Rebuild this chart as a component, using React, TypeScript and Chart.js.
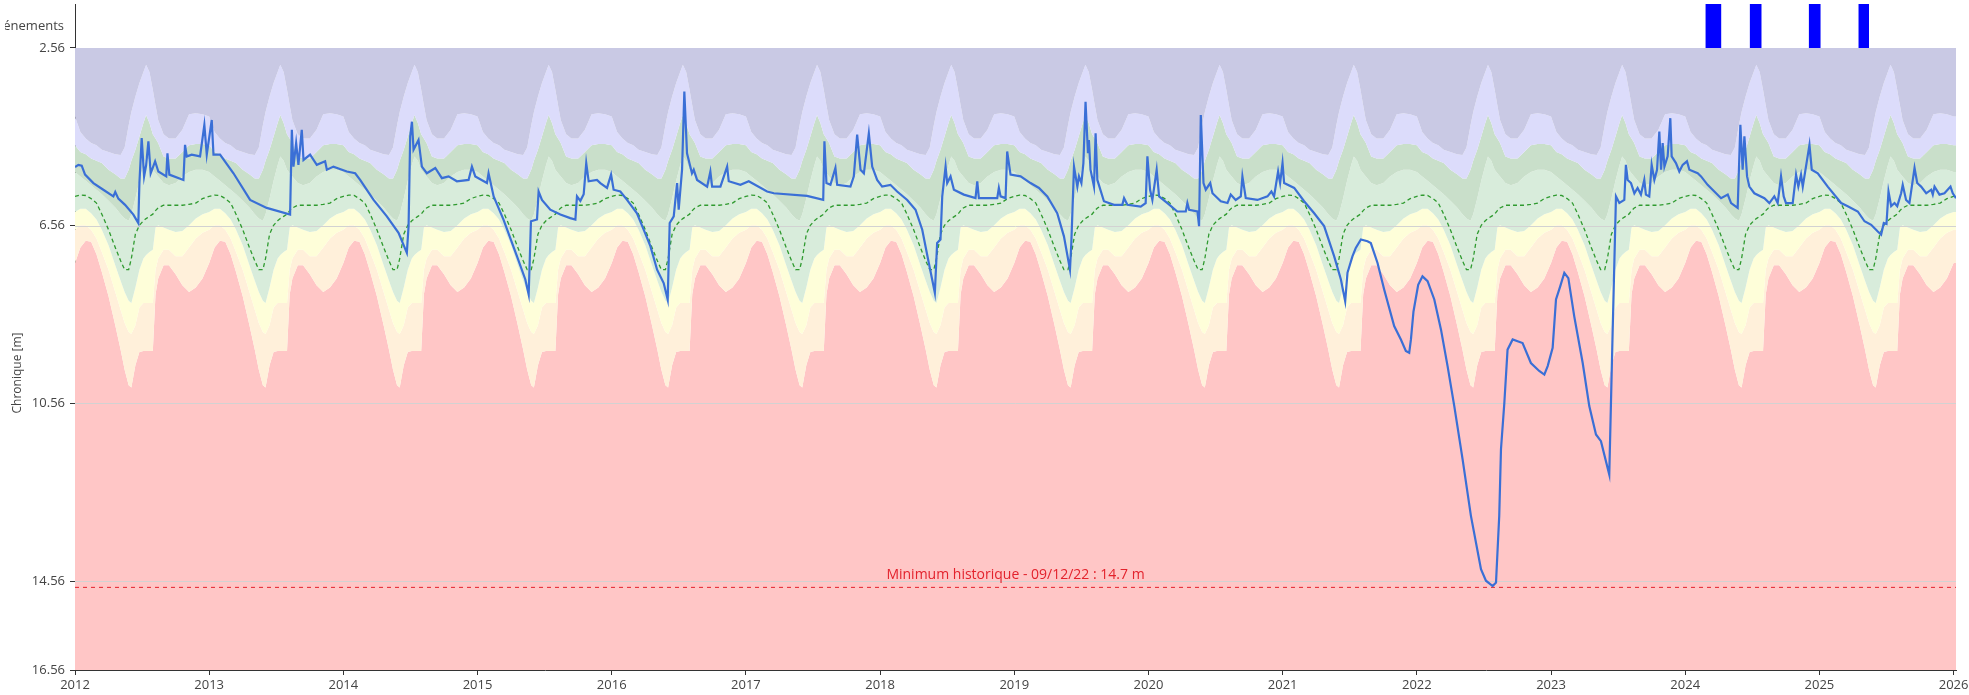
import React, { useEffect, useRef } from 'react';
import { Chart, registerables } from 'chart.js';

Chart.register(...registerables);

const X_MIN = 2012;
const X_MAX = 2026.018;
const Y_TOP = 1.57;
const Y_BOTTOM = 16.56;
const BAND_TOP = 2.56;

const yearTicks = [2012, 2013, 2014, 2015, 2016, 2017, 2018, 2019, 2020, 2021, 2022, 2023, 2024, 2025, 2026];
const yTickValues = [2.56, 6.56, 10.56, 14.56, 16.56];
const gridValues = [6.56, 10.56, 14.56];

const yAxisTitle = 'Chronique [m]';
const eventsLabel = 'Événements';

const chronYears = [
  2012.000, 2012.025, 2012.050, 2012.075, 2012.137, 2012.211, 2012.286, 2012.300, 2012.323, 2012.373,
  2012.435, 2012.472, 2012.480, 2012.497, 2012.515, 2012.530, 2012.547, 2012.564, 2012.597, 2012.621,
  2012.680, 2012.689, 2012.703, 2012.808, 2012.820, 2012.833, 2012.870, 2012.932, 2012.964, 2012.982,
  2013.019, 2013.032, 2013.081, 2013.181, 2013.305, 2013.429, 2013.603, 2013.616, 2013.628, 2013.648,
  2013.665, 2013.690, 2013.703, 2013.752, 2013.802, 2013.864, 2013.877, 2013.926, 2014.026, 2014.088,
  2014.125, 2014.225, 2014.324, 2014.411, 2014.473, 2014.486, 2014.498, 2014.511, 2014.523, 2014.560,
  2014.585, 2014.622, 2014.685, 2014.734, 2014.784, 2014.846, 2014.933, 2014.958, 2014.983, 2015.070,
  2015.082, 2015.120, 2015.194, 2015.294, 2015.356, 2015.381, 2015.398, 2015.443, 2015.455, 2015.480,
  2015.542, 2015.617, 2015.691, 2015.729, 2015.741, 2015.766, 2015.791, 2015.810, 2015.828, 2015.890,
  2015.915, 2015.965, 2015.995, 2016.014, 2016.064, 2016.114, 2016.188, 2016.238, 2016.288, 2016.338,
  2016.387, 2016.417, 2016.432, 2016.462, 2016.487, 2016.499, 2016.524, 2016.541, 2016.561, 2016.598,
  2016.611, 2016.636, 2016.711, 2016.735, 2016.748, 2016.810, 2016.860, 2016.872, 2016.959, 2017.021,
  2017.158, 2017.208, 2017.456, 2017.576, 2017.585, 2017.600, 2017.630, 2017.667, 2017.680, 2017.779,
  2017.804, 2017.829, 2017.854, 2017.879, 2017.916, 2017.941, 2017.978, 2018.015, 2018.077, 2018.127,
  2018.202, 2018.264, 2018.314, 2018.363, 2018.408, 2018.425, 2018.450, 2018.463, 2018.488, 2018.500,
  2018.525, 2018.550, 2018.624, 2018.711, 2018.724, 2018.736, 2018.873, 2018.885, 2018.898, 2018.935,
  2018.947, 2018.972, 2019.047, 2019.121, 2019.184, 2019.246, 2019.320, 2019.370, 2019.415, 2019.425,
  2019.445, 2019.470, 2019.482, 2019.500, 2019.515, 2019.531, 2019.549, 2019.556, 2019.568, 2019.594,
  2019.606, 2019.619, 2019.668, 2019.743, 2019.805, 2019.818, 2019.843, 2019.942, 2019.979, 2019.992,
  2020.012, 2020.029, 2020.061, 2020.079, 2020.141, 2020.215, 2020.278, 2020.290, 2020.303, 2020.365,
  2020.377, 2020.390, 2020.410, 2020.427, 2020.460, 2020.477, 2020.539, 2020.589, 2020.613, 2020.650,
  2020.688, 2020.700, 2020.725, 2020.812, 2020.887, 2020.916, 2020.936, 2020.966, 2020.981, 2020.999,
  2021.011, 2021.086, 2021.160, 2021.235, 2021.309, 2021.384, 2021.434, 2021.466, 2021.483, 2021.520,
  2021.545, 2021.583, 2021.632, 2021.657, 2021.707, 2021.757, 2021.831, 2021.881, 2021.918, 2021.943,
  2021.956, 2021.975, 2022.010, 2022.042, 2022.080, 2022.130, 2022.180, 2022.229, 2022.279, 2022.341,
  2022.403, 2022.478, 2022.515, 2022.565, 2022.590, 2022.614, 2022.627, 2022.652, 2022.676, 2022.714,
  2022.751, 2022.788, 2022.850, 2022.912, 2022.950, 2022.975, 2023.012, 2023.037, 2023.069, 2023.099,
  2023.129, 2023.173, 2023.236, 2023.285, 2023.335, 2023.372, 2023.434, 2023.459, 2023.484, 2023.509,
  2023.546, 2023.558, 2023.571, 2023.596, 2023.621, 2023.645, 2023.670, 2023.695, 2023.707, 2023.732,
  2023.750, 2023.770, 2023.790, 2023.807, 2023.820, 2023.832, 2023.845, 2023.869, 2023.889, 2023.899,
  2023.931, 2023.956, 2023.981, 2024.013, 2024.031, 2024.093, 2024.118, 2024.167, 2024.217, 2024.267,
  2024.317, 2024.342, 2024.391, 2024.411, 2024.428, 2024.441, 2024.461, 2024.478, 2024.515, 2024.590,
  2024.627, 2024.664, 2024.689, 2024.714, 2024.734, 2024.751, 2024.801, 2024.826, 2024.843, 2024.863,
  2024.876, 2024.926, 2024.943, 2024.988, 2025.062, 2025.162, 2025.211, 2025.286, 2025.336, 2025.386,
  2025.435, 2025.460, 2025.480, 2025.500, 2025.515, 2025.535, 2025.560, 2025.580, 2025.609, 2025.621,
  2025.646, 2025.671, 2025.709, 2025.729, 2025.758, 2025.796, 2025.833, 2025.845, 2025.858, 2025.895,
  2025.932, 2025.977, 2025.994, 2026.018,
];

const chronValues = [
  5.24, 5.19, 5.21, 5.41, 5.60, 5.75, 5.90, 5.80, 5.95, 6.09,
  6.31, 6.50, 5.60, 4.59, 5.45, 5.20, 4.66, 5.38, 5.11, 5.34,
  5.45, 4.93, 5.41, 5.53, 4.74, 5.00, 4.96, 5.00, 4.29, 4.96,
  4.18, 4.96, 4.96, 5.38, 5.98, 6.16, 6.31, 4.40, 5.23, 4.70,
  5.19, 4.40, 5.08, 4.96, 5.19, 5.11, 5.30, 5.23, 5.34, 5.38,
  5.53, 5.98, 6.35, 6.72, 7.17, 6.57, 4.55, 4.22, 4.85, 4.63,
  5.23, 5.38, 5.26, 5.49, 5.45, 5.56, 5.53, 5.23, 5.45, 5.60,
  5.38, 5.90, 6.43, 7.25, 7.77, 8.11, 6.46, 6.42, 5.79, 5.98,
  6.20, 6.31, 6.39, 6.42, 5.90, 6.00, 5.85, 5.15, 5.56, 5.53,
  5.60, 5.71, 5.41, 5.75, 5.79, 5.98, 6.28, 6.65, 7.02, 7.55,
  7.85, 8.22, 6.50, 6.35, 5.60, 6.20, 5.30, 3.54, 4.93, 5.38,
  5.30, 5.53, 5.68, 5.34, 5.68, 5.68, 5.23, 5.56, 5.64, 5.56,
  5.79, 5.83, 5.89, 5.98, 4.66, 5.60, 5.64, 5.26, 5.64, 5.68,
  5.45, 4.51, 5.30, 5.38, 4.48, 5.23, 5.53, 5.68, 5.64, 5.79,
  5.98, 6.20, 6.65, 7.40, 8.07, 6.95, 6.87, 5.90, 5.23, 5.60,
  5.45, 5.75, 5.86, 5.94, 5.56, 5.94, 5.94, 5.71, 5.90, 5.94,
  4.89, 5.41, 5.45, 5.60, 5.71, 5.90, 6.28, 6.80, 7.55, 6.95,
  5.23, 5.68, 5.45, 5.60, 5.15, 3.77, 4.93, 4.63, 5.30, 5.68,
  4.48, 5.53, 6.01, 6.09, 6.09, 5.94, 6.09, 6.13, 6.05, 5.00,
  5.75, 5.98, 5.30, 5.90, 6.05, 6.24, 6.24, 6.05, 6.20, 6.24,
  6.57, 4.07, 5.60, 5.75, 5.60, 5.83, 6.01, 6.05, 5.86, 5.98,
  5.90, 5.45, 5.94, 5.98, 5.90, 5.79, 5.90, 5.34, 5.60, 5.15,
  5.60, 5.71, 6.01, 6.28, 6.57, 7.25, 7.77, 8.26, 7.62, 7.25,
  7.06, 6.87, 6.91, 6.95, 7.40, 8.00, 8.82, 9.12, 9.38, 9.42,
  9.12, 8.49, 7.89, 7.70, 7.81, 8.22, 8.90, 9.72, 10.62, 11.82,
  13.09, 14.29, 14.55, 14.67, 14.59, 13.09, 11.59, 10.55, 9.35, 9.12,
  9.16, 9.20, 9.65, 9.83, 9.91, 9.72, 9.31, 8.22, 7.92, 7.62,
  7.74, 8.60, 9.65, 10.62, 11.26, 11.41, 12.16, 8.97, 5.90, 6.05,
  5.98, 5.19, 5.53, 5.60, 5.83, 5.71, 5.86, 5.53, 5.86, 5.90,
  5.19, 5.53, 5.30, 4.44, 5.30, 4.70, 5.23, 5.00, 4.14, 5.00,
  5.15, 5.34, 5.19, 5.11, 5.30, 5.38, 5.45, 5.64, 5.79, 5.94,
  5.86, 6.05, 6.16, 4.29, 5.30, 4.55, 5.45, 5.68, 5.83, 5.94,
  6.05, 5.90, 6.05, 5.45, 5.90, 6.05, 6.05, 5.41, 5.68, 5.41,
  5.68, 4.74, 5.30, 5.38, 5.68, 6.05, 6.12, 6.24, 6.46, 6.54,
  6.69, 6.76, 6.50, 6.52, 5.79, 6.12, 6.05, 6.12, 5.83, 5.64,
  5.98, 6.05, 5.26, 5.60, 5.68, 5.83, 5.75, 5.86, 5.68, 5.86,
  5.83, 5.68, 5.83, 5.94,
];

// Day-of-year statistics (fraction of the year) repeated for each calendar year
const bandFrac = [0.00, 0.04, 0.08, 0.12, 0.16, 0.20, 0.25, 0.30, 0.34, 0.37, 0.40, 0.42, 0.45, 0.48, 0.51, 0.53, 0.555, 0.58, 0.60, 0.62, 0.66, 0.70, 0.75, 0.80, 0.85, 0.90, 0.95];
const bandVeryHigh = [4.10, 4.45, 4.60, 4.70, 4.75, 4.85, 4.90, 4.95, 4.97, 4.80, 4.30, 4.00, 3.65, 3.35, 3.10, 2.94, 3.10, 3.50, 3.85, 4.18, 4.50, 4.60, 4.60, 4.40, 4.05, 4.03, 4.05];
const bandHigh = [4.75, 4.90, 4.95, 5.05, 5.10, 5.15, 5.30, 5.40, 5.50, 5.50, 5.30, 5.10, 4.85, 4.55, 4.25, 4.07, 4.25, 4.50, 4.60, 4.70, 5.00, 5.05, 5.05, 4.90, 4.75, 4.72, 4.72];
const bandAboveNormal = [5.35, 5.45, 5.55, 5.65, 5.75, 5.85, 6.00, 6.15, 6.30, 6.40, 6.45, 6.30, 5.95, 5.55, 5.20, 5.00, 5.10, 5.30, 5.38, 5.45, 5.60, 5.65, 5.60, 5.45, 5.35, 5.30, 5.30];
const bandNormal = [6.25, 6.18, 6.18, 6.28, 6.42, 6.65, 7.00, 7.45, 7.80, 8.05, 8.25, 8.30, 7.95, 7.55, 7.30, 7.22, 7.15, 7.10, 6.60, 6.55, 6.60, 6.65, 6.70, 6.68, 6.55, 6.40, 6.30];
const bandBelowNormal = [6.65, 6.55, 6.55, 6.65, 6.85, 7.15, 7.55, 8.05, 8.45, 8.75, 8.95, 9.00, 8.80, 8.40, 8.30, 8.30, 8.30, 8.30, 7.55, 7.30, 7.10, 7.10, 7.25, 7.25, 7.05, 6.85, 6.72];
const bandLow = [7.40, 7.05, 6.90, 6.92, 7.20, 7.60, 8.15, 8.80, 9.35, 9.80, 10.15, 10.20, 9.70, 9.40, 9.38, 9.38, 9.38, 9.38, 8.10, 7.75, 7.45, 7.45, 7.65, 7.90, 8.05, 7.95, 7.75];
const medianValues = [5.90, 5.87, 5.88, 5.95, 6.05, 6.30, 6.65, 7.05, 7.35, 7.55, 7.55, 7.30, 6.75, 6.55, 6.45, 6.40, 6.35, 6.30, 6.22, 6.16, 6.10, 6.10, 6.10, 6.10, 6.08, 6.05, 5.95];

const eventStarts = [2024.15, 2024.48, 2024.92, 2025.29];
const eventEnds = [2024.27, 2024.57, 2025.01, 2025.37];

const minValue = 14.7;
const minLabel = 'Minimum historique - 09/12/22 : 14.7 m';

const COLORS = {
  line: '#3a6fd6',
  median: '#2f9a2f',
  min: '#e3222c',
  veryHigh: '#c9c9e4',
  high: '#dcdcfb',
  aboveNormal: '#c9dfca',
  normal: '#d8ecdb',
  belowNormal: '#fefed9',
  low: '#fff0da',
  veryLow: '#ffc6c6',
  event: '#0000ff',
  grid: '#d2d2d2',
  axis: '#333333',
  text: '#444444',
};

const FONT = "'Open Sans', 'Noto Sans', sans-serif";

function seasonal(values: number[]) {
  const pts: { x: number; y: number }[] = [];
  for (let yr = 2012; yr <= 2026; yr++) {
    for (let i = 0; i < bandFrac.length; i++) {
      const x = yr + bandFrac[i];
      if (x <= X_MAX) pts.push({ x, y: values[i] });
    }
  }
  pts.push({ x: X_MAX, y: values[0] });
  return pts;
}

const bandDs = (values: number[], color: string, fill: any) => ({
  data: seasonal(values),
  borderColor: 'rgba(0,0,0,0)',
  borderWidth: 0,
  backgroundColor: color,
  pointRadius: 0,
  fill,
});

const overlayPlugin = {
  id: 'overlay',
  afterDatasetDraw(chart: any, args: any) {
    if (args.index !== 7) return;
    const { ctx, chartArea, scales } = chart;
    ctx.save();
    ctx.strokeStyle = COLORS.grid;
    ctx.lineWidth = 1;
    for (const v of gridValues) {
      const y = Math.round(scales.y.getPixelForValue(v)) + 0.5;
      ctx.beginPath();
      ctx.moveTo(chartArea.left, y);
      ctx.lineTo(chartArea.right, y);
      ctx.stroke();
    }
    ctx.restore();
  },
  afterDraw(chart: any) {
    const { ctx, chartArea, scales } = chart;
    ctx.save();
    // minimum label
    ctx.fillStyle = COLORS.min;
    ctx.font = `14px ${FONT}`;
    ctx.textAlign = 'center';
    ctx.textBaseline = 'middle';
    const ym = scales.y.getPixelForValue(minValue);
    ctx.fillText(minLabel, (chartArea.left + chartArea.right) / 2, ym - 12);
    // events label (clipped at left)
    ctx.save();
    ctx.beginPath();
    ctx.rect(5, 0, 70, 48);
    ctx.clip();
    ctx.font = `13px ${FONT}`;
    ctx.fillStyle = COLORS.text;
    ctx.textAlign = 'right';
    ctx.fillText(eventsLabel, 64, 26);
    ctx.restore();
    // y axis title
    ctx.translate(18, 373);
    ctx.rotate(-Math.PI / 2);
    ctx.fillStyle = COLORS.text;
    ctx.font = `12px ${FONT}`;
    ctx.textAlign = 'center';
    ctx.textBaseline = 'middle';
    ctx.fillText(yAxisTitle, 0, 0);
    ctx.restore();
  },
};

export default function App() {
  const ref = useRef<HTMLCanvasElement | null>(null);
  useEffect(() => {
    if (!ref.current) return;
    const datasets: any[] = [];
    datasets.push({
      data: chronYears.map((x, i) => ({ x, y: chronValues[i] })),
      borderColor: COLORS.line,
      borderWidth: 2.2,
      pointRadius: 0,
      fill: false,
      tension: 0,
    });
    datasets.push({
      data: seasonal(medianValues),
      borderColor: COLORS.median,
      borderWidth: 1.3,
      borderDash: [4, 3],
      pointRadius: 0,
      fill: false,
    });
    datasets.push({
      data: [{ x: X_MIN, y: minValue }, { x: X_MAX, y: minValue }],
      borderColor: COLORS.min,
      borderWidth: 1,
      borderDash: [4, 4],
      pointRadius: 0,
      fill: false,
    });
    for (let i = 0; i < eventStarts.length; i++) {
      datasets.push({
        data: [{ x: eventStarts[i], y: Y_TOP }, { x: eventEnds[i], y: Y_TOP }],
        borderColor: 'rgba(0,0,0,0)',
        borderWidth: 0,
        backgroundColor: COLORS.event,
        pointRadius: 0,
        fill: { value: BAND_TOP },
      });
    }
    datasets.push(bandDs(bandVeryHigh, COLORS.veryHigh, { value: BAND_TOP }));
    datasets.push(bandDs(bandHigh, COLORS.high, '-1'));
    datasets.push(bandDs(bandAboveNormal, COLORS.aboveNormal, '-1'));
    datasets.push(bandDs(bandNormal, COLORS.normal, '-1'));
    datasets.push(bandDs(bandBelowNormal, COLORS.belowNormal, '-1'));
    datasets.push(bandDs(bandLow, COLORS.low, '-1'));
    datasets.push(bandDs(bandLow, COLORS.veryLow, 'start'));

    const chart = new Chart(ref.current, {
      type: 'line',
      data: { datasets },
      plugins: [overlayPlugin],
      options: {
        animation: false,
        responsive: false,
        events: [],
        layout: { padding: { left: 0, top: 4, right: 13, bottom: 0 } },
        plugins: { legend: { display: false }, tooltip: { enabled: false } },
        scales: {
          x: {
            type: 'linear',
            min: X_MIN,
            max: X_MAX,
            afterBuildTicks: (s: any) => { s.ticks = yearTicks.map((v) => ({ value: v })); },
            afterFit: (s: any) => { s.height = 25; s.paddingLeft = 0; s.paddingRight = 0; },
            ticks: {
              autoSkip: false,
              maxRotation: 0,
              padding: 2,
              color: COLORS.text,
              font: { family: FONT, size: 13 },
              callback: (v: any) => String(v),
            },
            grid: { drawOnChartArea: false, tickLength: 5, tickColor: COLORS.axis },
            border: { display: true, color: COLORS.axis, width: 1 },
          },
          y: {
            type: 'linear',
            reverse: true,
            min: Y_TOP,
            max: Y_BOTTOM,
            afterBuildTicks: (s: any) => { s.ticks = yTickValues.map((v) => ({ value: v })); },
            afterFit: (s: any) => { s.width = 75; s.paddingTop = 0; s.paddingBottom = 0; },
            ticks: {
              autoSkip: false,
              padding: 5,
              color: COLORS.text,
              font: { family: FONT, size: 13 },
              callback: (v: any) => Number(v).toFixed(2),
            },
            grid: { drawOnChartArea: false, tickLength: 5, tickColor: COLORS.axis },
            border: { display: true, color: COLORS.axis, width: 1 },
          },
        },
      },
    });
    return () => chart.destroy();
  }, []);

  return (
    <div style={{ position: 'fixed', left: 0, top: 0, width: 1969, height: 695, background: '#fff' }}>
      <canvas ref={ref} width={1969} height={695} style={{ display: 'block', width: 1969, height: 695 }} />
    </div>
  );
}
